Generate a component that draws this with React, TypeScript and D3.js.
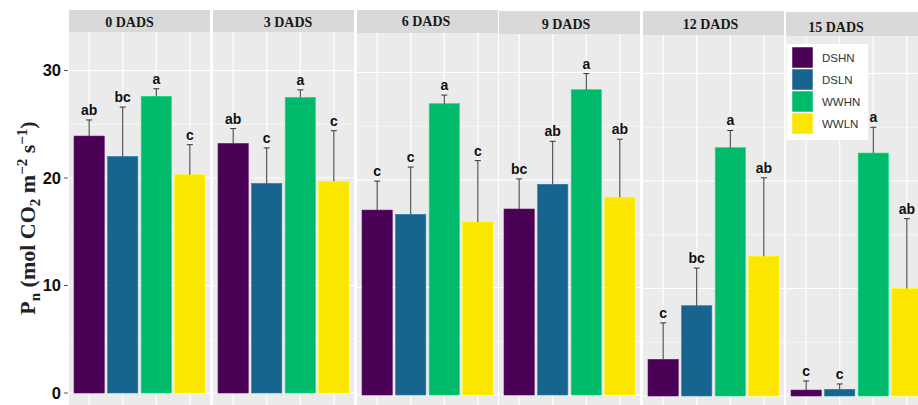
import React from "react";
import * as d3 from "d3";

const panels = ["0 DADS", "3 DADS", "6 DADS", "9 DADS", "12 DADS", "15 DADS"];
const treatments = ["DSHN", "DSLN", "WWHN", "WWLN"];
const colors = ["#4A0055", "#17648E", "#00BA6C", "#FCE600"];

const meanDSHN = [23.9, 23.2, 17.2, 17.3, 3.4, 0.55];
const meanDSLN = [22.0, 19.5, 16.8, 19.6, 8.4, 0.62];
const meanWWHN = [27.6, 27.5, 27.1, 28.4, 23.1, 22.6];
const meanWWLN = [20.3, 19.7, 16.1, 18.4, 13.0, 10.0];

const errDSHN = [1.5, 1.4, 2.7, 2.8, 3.4, 0.85];
const errDSLN = [4.6, 3.3, 4.4, 4.0, 3.5, 0.5];
const errWWHN = [0.7, 0.7, 0.8, 1.5, 1.6, 2.4];
const errWWLN = [2.8, 4.7, 5.7, 5.4, 7.3, 6.5];

const letDSHN = ["ab", "ab", "c", "bc", "c", "c"];
const letDSLN = ["bc", "c", "c", "ab", "bc", "c"];
const letWWHN = ["a", "a", "a", "a", "a", "a"];
const letWWLN = ["c", "c", "c", "ab", "ab", "ab"];

const yTicks = [0, 10, 20, 30];
const yMinor = [5, 15, 25];

// layout (collage of slightly offset panels)
const panelLeft = [69, 213, 357, 499, 643, 786];
const panelWidth = 141;
const zeroY = [393, 393, 395, 395, 396, 396];
const stripTop = [10, 10, 10, 11, 11, 12];
const stripBottom = [32, 32, 33, 34, 35, 36];
const stripTextX = [129.5, 288, 426, 566, 710.5, 836];
const stripTextY = [26.5, 26.5, 26, 29, 29, 31.5];

const means = [meanDSHN, meanDSLN, meanWWHN, meanWWLN];
const errs = [errDSHN, errDSLN, errWWHN, errWWLN];
const letters = [letDSHN, letDSLN, letWWHN, letWWLN];

export default function App() {
  const W = 918, H = 405;
  const pxPerTen = 107.5;

  return (
    <svg width={W} height={H} style={{ position: "absolute", left: 0, top: 0, background: "#fff" }}
      xmlns="http://www.w3.org/2000/svg">
      <rect x={0} y={0} width={W} height={H} fill="#fff" />
      {panels.map((p, pi) => {
        const x0 = panelLeft[pi];
        const x = d3.scaleBand<string>().domain(treatments)
          .range([x0 + 0.6 * panelWidth / 4.2 - 0.5 * panelWidth / 4.2, x0 + panelWidth - 0.6 * panelWidth / 4.2 + 0.5 * panelWidth / 4.2])
          .paddingInner(0.1).paddingOuter(0.05);
        const step = panelWidth / 4.2;
        const cx = (t: string) => x0 + (0.6 + treatments.indexOf(t)) * step;
        const bw = 0.9 * step;
        const y = d3.scaleLinear().domain([0, 10]).range([zeroY[pi], zeroY[pi] - pxPerTen]);
        const top = stripBottom[pi];
        return (
          <g key={p}>
            <clipPath id={`clip${pi}`}>
              <rect x={x0} y={top} width={panelWidth} height={H - top} />
            </clipPath>
            <rect x={x0} y={top} width={panelWidth} height={H - top + 10} fill="#EBEBEB" />
            <g clipPath={`url(#clip${pi})`}>
              {yMinor.map(v => (
                <line key={"mi" + v} x1={x0} x2={x0 + panelWidth} y1={y(v)} y2={y(v)} stroke="#fff" strokeWidth={0.6} />
              ))}
              {yTicks.map(v => (
                <line key={"ma" + v} x1={x0} x2={x0 + panelWidth} y1={y(v)} y2={y(v)} stroke="#fff" strokeWidth={1.2} />
              ))}
              {treatments.map(t => (
                <line key={"vg" + t} x1={cx(t)} x2={cx(t)} y1={top} y2={H} stroke="#fff" strokeWidth={1.2} />
              ))}
              {treatments.map((t, ti) => {
                const m = means[ti][pi];
                const e = errs[ti][pi];
                const c = cx(t);
                return (
                  <g key={t}>
                    <rect x={c - bw / 2} y={y(m)} width={bw} height={y(0) - y(m)} fill={colors[ti]}
                      stroke={d3.color(colors[ti])!.brighter(0.6).toString()} strokeWidth={0.6} />
                    <line x1={c} x2={c} y1={y(m)} y2={y(m + e)} stroke="#333" strokeWidth={1} />
                    <line x1={c - 3} x2={c + 3} y1={y(m + e)} y2={y(m + e)} stroke="#333" strokeWidth={1} />
                    <text x={c} y={y(m + e) - 5} textAnchor="middle" fontFamily="Liberation Sans, Arial, sans-serif"
                      fontWeight="bold" fontSize={14} fill="#111">{letters[ti][pi]}</text>
                  </g>
                );
              })}
            </g>
            <rect x={x0} y={stripTop[pi]} width={panelWidth} height={stripBottom[pi] - stripTop[pi]} fill="#D9D9D9" />
            <text x={stripTextX[pi]} y={stripTextY[pi]} textAnchor="middle" fontFamily="Liberation Serif, serif"
              fontWeight="bold" fontSize={14} fill="#1a1a1a">{p}</text>
          </g>
        );
      })}
      {/* y axis */}
      {(() => {
        const y = d3.scaleLinear().domain([0, 10]).range([zeroY[0], zeroY[0] - pxPerTen]);
        return (
          <g>
            {yTicks.map(v => (
              <g key={v}>
                <line x1={64} x2={68} y1={y(v)} y2={y(v)} stroke="#555" strokeWidth={1} />
                <text x={61} y={y(v)} dy="0.36em" textAnchor="end" fontFamily="Liberation Sans, Arial, sans-serif"
                  fontWeight="bold" fontSize={16.5} fill="#111">{v}</text>
              </g>
            ))}
            <text transform="translate(35,218) rotate(-90)" textAnchor="middle" fontFamily="Liberation Serif, serif"
              fontWeight="bold" fontSize={22} fill="#222">
              <tspan>P</tspan>
              <tspan fontSize={15} dy={5}>n</tspan>
              <tspan dy={-5}> (mol CO</tspan>
              <tspan fontSize={15} dy={5}>2</tspan>
              <tspan dy={-5}> m</tspan>
              <tspan fontSize={15} dy={-8}>−2</tspan>
              <tspan dy={8}> s</tspan>
              <tspan fontSize={15} dy={-8}>−1</tspan>
              <tspan dy={8}>)</tspan>
            </text>
          </g>
        );
      })()}
      {/* legend */}
      <g>
        <rect x={787} y={44} width={81} height={96} fill="#fff" />
        {treatments.map((t, i) => (
          <g key={t}>
            <rect x={792} y={47 + i * 22} width={21} height={21} fill={colors[i]} stroke="#fff" strokeWidth={0.5} />
            <text x={822} y={47 + i * 22 + 10.5} dy="0.36em" fontFamily="Liberation Sans, Arial, sans-serif"
              fontSize={11.5} fill="#333">{t}</text>
          </g>
        ))}
      </g>
    </svg>
  );
}
